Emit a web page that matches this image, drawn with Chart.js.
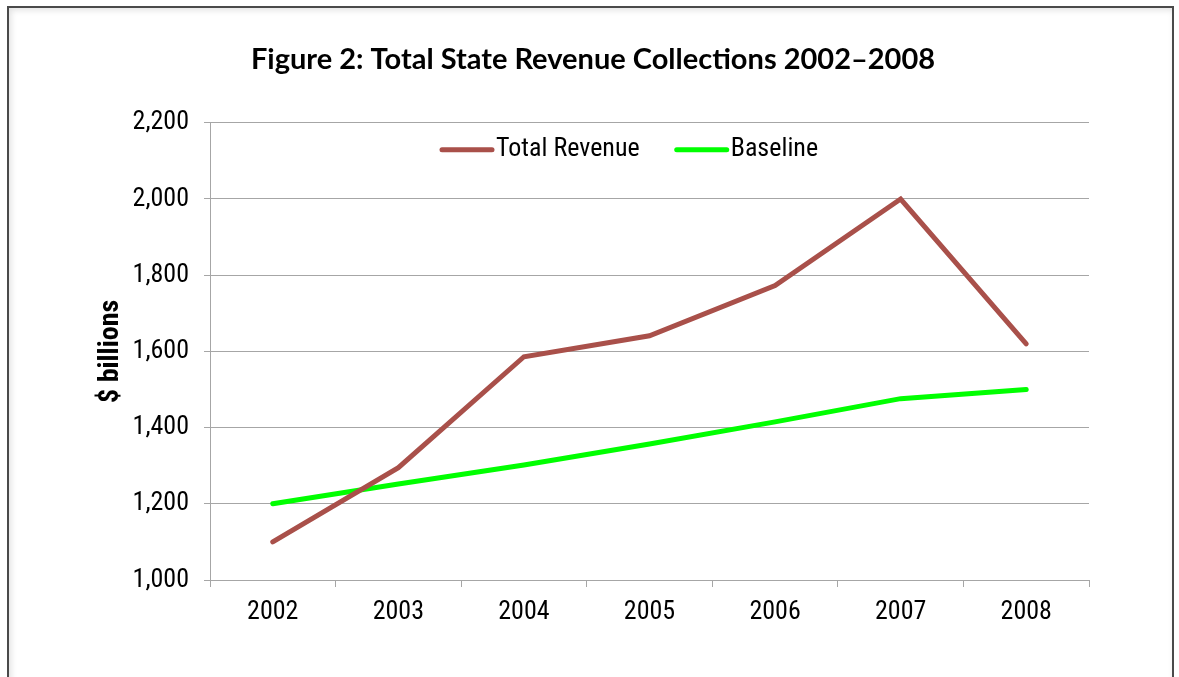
<!DOCTYPE html>
<html>
<head>
<meta charset="utf-8">
<title>Total State Revenue Collections 2002–2008</title>
<script src="https://cdn.jsdelivr.net/npm/chart.js@4.4.1/dist/chart.umd.min.js"></script>
<style>
  html, body {
    margin: 0;
    padding: 0;
    background: #ffffff;
    overflow: hidden;
  }
  #frame {
    position: absolute;
    left: 7px;
    top: 6px;
    width: 1163px;
    height: 720px;
    border: 2px solid #4a4a4a;
    border-bottom: none;
    box-shadow: inset 2px 2px 6px rgba(0, 0, 0, 0.12);
  }
  #chart {
    position: absolute;
    left: 0;
    top: 0;
  }
</style>
</head>
<body>
<div id="frame"></div>
<canvas id="chart" width="1179" height="677"></canvas>
<script>
  const years = ["2002", "2003", "2004", "2005", "2006", "2007", "2008"]
  const totalRevenue = [1100, 1295, 1586, 1641, 1773, 2000, 1620]
  const baseline = [1200, 1252, 1302, 1357, 1415, 1476, 1500]
  const yTicks = [1000, 1200, 1400, 1600, 1800, 2000, 2200]

  const narrowFont = "'Roboto Condensed', 'Liberation Sans Narrow', 'DejaVu Sans Condensed', sans-serif"
  const gridColor = "#a6a6a6"

  // legend drawn inside the plot, under the top gridline
  const insideLegend = {
    id: "insideLegend",
    afterDraw(chart) {
      const { ctx, chartArea } = chart
      let x = chartArea.left + 230
      const y = chartArea.top + 27

      ctx.save()
      ctx.font = `26px ${narrowFont}`
      ctx.textBaseline = "middle"
      ctx.textAlign = "left"
      chart.data.datasets.forEach((dataset) => {
        ctx.strokeStyle = dataset.borderColor
        ctx.lineWidth = 5
        ctx.lineCap = "round"
        ctx.beginPath()
        ctx.moveTo(x + 2, y)
        ctx.lineTo(x + 52, y)
        ctx.stroke()

        ctx.fillStyle = "#000000"
        ctx.fillText(dataset.label, x + 56, y)
        x += 56 + ctx.measureText(dataset.label).width + 35
      })
      ctx.restore()
    },
  }

  new Chart(document.getElementById("chart"), {
    type: "line",
    data: {
      labels: years,
      datasets: [
        {
          label: "Total Revenue",
          data: totalRevenue,
          borderColor: "#a9504a",
          borderWidth: 5,
          borderCapStyle: "round",
          pointRadius: 0,
          tension: 0,
        },
        {
          label: "Baseline",
          data: baseline,
          borderColor: "#00ff00",
          borderWidth: 5,
          borderCapStyle: "round",
          pointRadius: 0,
          tension: 0,
        },
      ],
    },
    options: {
      responsive: false,
      animation: false,
      layout: {
        padding: { top: 0, left: 7, right: 0, bottom: 0 },
      },
      scales: {
        x: {
          offset: true,
          grid: {
            offset: true,
            drawOnChartArea: false,
            tickLength: 7,
            color: gridColor,
          },
          border: { color: gridColor },
          ticks: {
            color: "#000000",
            padding: 10,
            font: { family: narrowFont, size: 26 },
          },
          afterFit: (scale) => {
            scale.height = 97
          },
        },
        y: {
          min: 1000,
          max: 2200,
          afterBuildTicks: (scale) => {
            scale.ticks = yTicks.map((value) => ({ value }))
          },
          grid: {
            color: gridColor,
            tickLength: 6,
          },
          border: { color: gridColor },
          ticks: {
            color: "#000000",
            padding: 15,
            font: { family: narrowFont, size: 26 },
            callback: (value) => value.toLocaleString("en-US"),
          },
          title: {
            display: true,
            text: "$ billions",
            color: "#000000",
            padding: { top: 87, bottom: 0 },
            font: { family: narrowFont, size: 28, weight: "bold" },
          },
          afterFit: (scale) => {
            scale.width = 203
          },
        },
        // empty right-hand gutter so the plot stops short of the frame
        gutter: {
          position: "right",
          grid: { display: false },
          border: { display: false },
          ticks: { display: false },
          afterFit: (scale) => {
            scale.width = 90
          },
        },
      },
      plugins: {
        legend: { display: false },
        tooltip: { enabled: false },
        title: {
          display: true,
          text: "Figure 2: Total State Revenue Collections 2002–2008",
          color: "#000000",
          padding: { top: 42, bottom: 46 },
          font: { family: "Lato, 'Open Sans', sans-serif", size: 29, weight: "bold" },
        },
      },
    },
    plugins: [insideLegend],
  })
</script>
</body>
</html>
